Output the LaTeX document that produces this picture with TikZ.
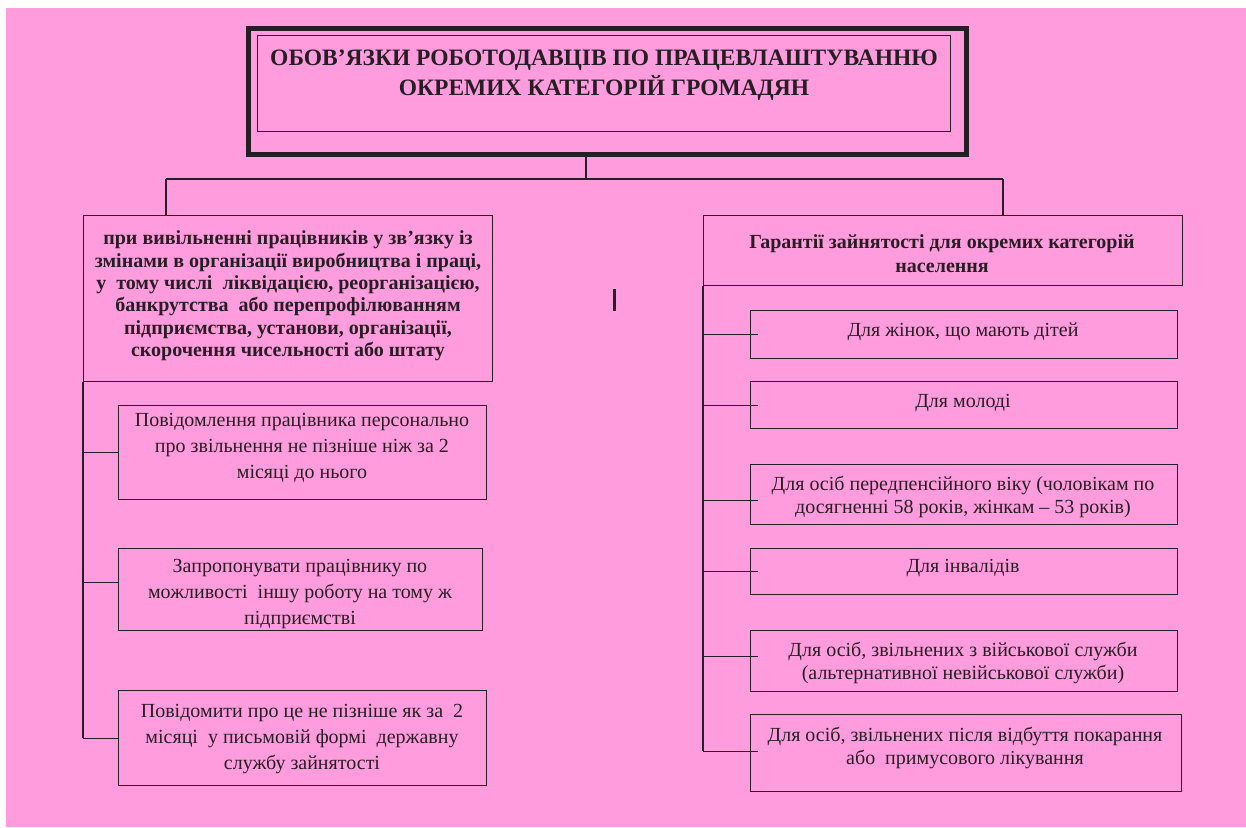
\documentclass[tikz,border=0pt]{standalone}
\usepackage{fontspec}
\setmainfont{Liberation Serif}
\definecolor{bgpink}{RGB}{255,156,222}
\definecolor{ink}{RGB}{38,30,36}
\tikzset{
  box/.style={draw=ink, line width=1.3pt, inner sep=0pt, anchor=north west},
  wire/.style={draw=ink, line width=1.3pt},
  txt/.style={align=center, inner sep=0pt, text=ink},
  titlefont/.style={font=\fontsize{23.5}{30}\selectfont\bfseries},
  headfont/.style={font=\fontsize{20}{22.4}\selectfont\bfseries},
  itemfont/.style={font=\fontsize{20}{26}\selectfont},
  rightfont/.style={font=\fontsize{20}{23}\selectfont},
}
\begin{document}
\begin{tikzpicture}[x=1pt, y=-1pt]
\useasboundingbox (0,0) rectangle (1246,827);
\fill[white] (0,0) rectangle (1246,827);
\fill[bgpink] (6,8) rectangle (1246,827);

% title frame: thick outer border with a thin inner one
\node[box, line width=4.5pt, minimum width=718pt, minimum height=126pt] (titleframe) at (246,26) {};
\node[box, line width=1.1pt, minimum width=693pt, minimum height=96pt] (titlebox) at (257,35) {};
\node[txt, titlefont] (titletext) at (604,75)
  {ОБОВ’ЯЗКИ РОБОТОДАВЦІВ ПО ПРАЦЕВЛАШТУВАННЮ\\ОКРЕМИХ КАТЕГОРІЙ ГРОМАДЯН};

% second level
\node[box, minimum width=409pt, minimum height=166pt] (lhead) at (83,215) {};
\node[txt, headfont] (lheadtext) at (288,296)
  {при вивільненні працівників у зв’язку із\\
   змінами в організації виробництва і праці,\\
   у\ \ тому числі\ \ ліквідацією, реорганізацією,\\
   банкрутства\ \ або перепрофілюванням\\
   підприємства, установи, організації,\\
   скорочення чисельності або штату};

\node[box, minimum width=479pt, minimum height=70pt] (rhead) at (703,215) {};
\node[txt, font=\fontsize{20}{24}\selectfont\bfseries] (rheadtext) at (942,254)
  {Гарантії зайнятості для окремих категорій\\населення};

% left column
\node[box, minimum width=368pt, minimum height=94pt] (c1) at (118,405) {};
\node[txt, itemfont] (c1text) at (302,448)
  {Повідомлення працівника персонально\\про звільнення не пізніше ніж за 2\\місяці до нього};
\node[box, minimum width=364pt, minimum height=82pt] (c2) at (118,548) {};
\node[txt, itemfont] (c2text) at (300,594)
  {Запропонувати працівнику по\\можливості\ \ іншу роботу на тому ж\\підприємстві};
\node[box, minimum width=368pt, minimum height=95pt] (c3) at (118,690) {};
\node[txt, itemfont] (c3text) at (302,739)
  {Повідомити про це не пізніше як за\ \ 2\\місяці\ \ у письмовій формі\ \ державну\\службу зайнятості};

% right column
\node[box, minimum width=427pt, minimum height=48pt] (r1) at (750,310) {};
\node[txt, rightfont] (r1text) at (963,332) {Для жінок, що мають дітей};
\node[box, minimum width=427pt, minimum height=47pt] (r2) at (750,381) {};
\node[txt, rightfont] (r2text) at (963,403) {Для молоді};
\node[box, minimum width=427pt, minimum height=60pt] (r3) at (750,464) {};
\node[txt, rightfont] (r3text) at (963,497)
  {Для осіб передпенсійного віку (чоловікам по\\досягненні 58 років, жінкам – 53 років)};
\node[box, minimum width=427pt, minimum height=46pt] (r4) at (750,548) {};
\node[txt, rightfont] (r4text) at (963,568) {Для інвалідів};
\node[box, minimum width=427pt, minimum height=61pt] (r5) at (750,630) {};
\node[txt, rightfont] (r5text) at (963,662.5)
  {Для осіб, звільнених з військової служби\\(альтернативної невійськової служби)};
\node[box, minimum width=431pt, minimum height=77pt] (r6) at (750,714) {};
\node[txt, rightfont] (r6text) at (965,748)
  {Для осіб, звільнених після відбуття покарання\\або\ \ примусового лікування};

% branch entry points on the boxes
\coordinate (c1in) at (c1.west);
\coordinate (c2in) at ([yshift=7pt]c2.west);
\coordinate (c3in) at (c3.west);
\coordinate (r1in) at ([xshift=8pt]r1.west);
\coordinate (r2in) at ([xshift=8pt]r2.west);
\coordinate (r3in) at ([xshift=8pt,yshift=-6pt]r3.west);
\coordinate (r4in) at ([xshift=8pt]r4.west);
\coordinate (r5in) at ([xshift=8pt,yshift=5pt]r5.west);
\coordinate (r6in) at ([xshift=8pt,yshift=2pt]r6.west);

% connectors from the title down to both branches
\coordinate (hub) at (586,179);
\coordinate (ljoin) at (166,179);
\coordinate (rjoin) at (1003,179);
\draw[wire] (titleframe.south -| hub) -- (hub);
\draw[wire] (ljoin) -- (rjoin);
\draw[wire] (ljoin) -- (ljoin |- lhead.north);
\draw[wire] (rjoin) -- (rjoin |- rhead.north);

% left spine with branches
\draw[wire] (lhead.south west) -- (lhead.south west |- c3in);
\foreach \b in {c1in, c2in, c3in}
  \draw[wire] (lhead.south west |- \b) -- (\b);

% right spine with branches
\draw[wire] (rhead.south west) -- (rhead.south west |- r6in);
\foreach \b in {r1in, r2in, r3in, r4in, r5in, r6in}
  \draw[wire] (rhead.south west |- \b) -- (\b);

% text cursor mark
\draw[ink, line width=3pt] (614,289) -- (614,311);
\end{tikzpicture}
\end{document}
